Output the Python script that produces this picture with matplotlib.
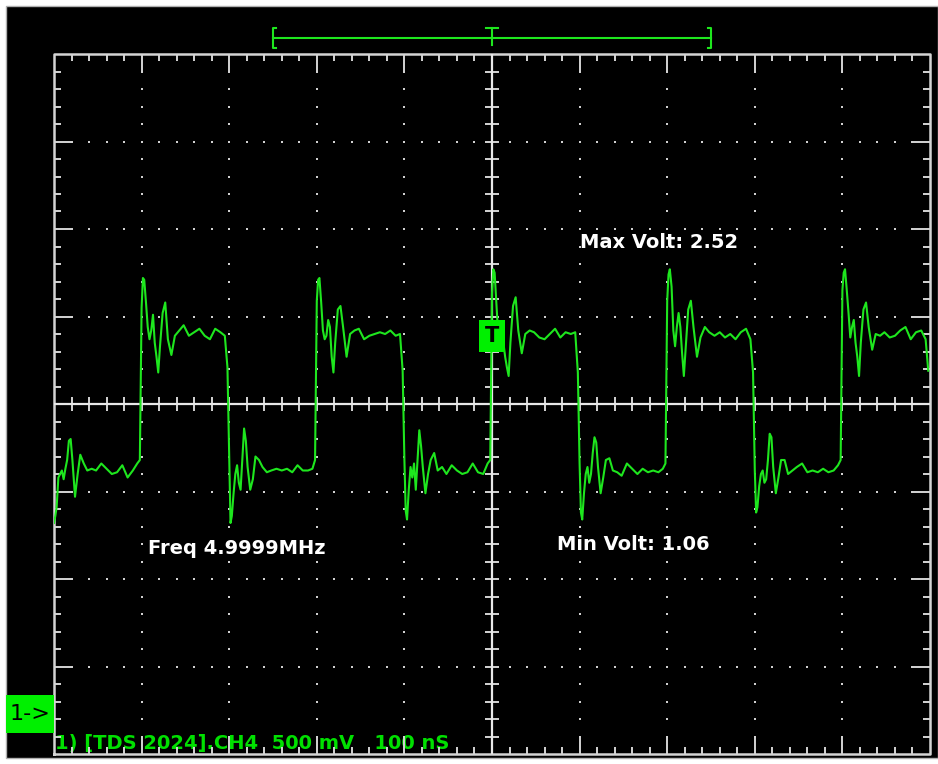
import numpy as np
import matplotlib
matplotlib.use("Agg")
import matplotlib.pyplot as plt
from matplotlib.patches import Rectangle
from matplotlib.collections import LineCollection
from matplotlib.transforms import blended_transform_factory

# Scope settings
NS_PER_DIV = 100
V_PER_DIV = 0.5
GROUND_DIV = 0.48          # CH1 ground marker, divisions above the bottom edge
TRIG_V = 2.15              # trigger level
RECORD_NS = (-250, 250)    # record window bracket at the top

# Trace readings: one list per half period, sampled at the same offsets after each edge
edge_ns = [-500, -400, -300, -200, -100, 0, 100, 200, 300, 400]
offset_ns = [0, 1.5, 3, 5, 7, 9, 11, 13, 15, 17, 19, 21, 24, 27, 30, 34, 38, 43,
             48, 54, 60, 66, 72, 78, 84, 90, 95, 98]

v_m500 = [1.08, 1.12, 1.17, 1.34, 1.36, 1.38, 1.33, 1.39, 1.44, 1.55, 1.56, 1.44, 1.23, 1.36,
          1.47, 1.42, 1.38, 1.39, 1.38, 1.42, 1.39, 1.36, 1.37, 1.41, 1.34, 1.38, 1.42, 1.44]
v_m400 = [2.31, 2.48, 2.47, 2.34, 2.20, 2.13, 2.18, 2.27, 2.11, 2.03, 1.94, 2.09, 2.28, 2.34,
          2.13, 2.04, 2.15, 2.18, 2.21, 2.15, 2.17, 2.19, 2.15, 2.13, 2.19, 2.17, 2.15, 1.97]
v_m300 = [1.45, 1.08, 1.12, 1.25, 1.36, 1.41, 1.31, 1.27, 1.44, 1.62, 1.55, 1.40, 1.27, 1.33,
          1.46, 1.44, 1.40, 1.37, 1.38, 1.39, 1.38, 1.39, 1.37, 1.41, 1.38, 1.38, 1.39, 1.44]
v_m200 = [2.35, 2.47, 2.48, 2.34, 2.18, 2.13, 2.15, 2.24, 2.20, 2.03, 1.94, 2.11, 2.30, 2.32,
          2.20, 2.03, 2.16, 2.18, 2.19, 2.13, 2.15, 2.16, 2.17, 2.16, 2.18, 2.15, 2.16, 1.95]
v_m100 = [1.44, 1.15, 1.10, 1.27, 1.40, 1.34, 1.42, 1.27, 1.44, 1.61, 1.52, 1.40, 1.25, 1.36,
          1.44, 1.48, 1.38, 1.40, 1.36, 1.41, 1.38, 1.36, 1.37, 1.42, 1.37, 1.36, 1.42, 1.44]
v_0 = [2.39, 2.53, 2.51, 2.34, 2.16, 2.13, 2.18, 2.11, 2.03, 1.97, 1.92, 2.11, 2.32, 2.37,
       2.18, 2.05, 2.16, 2.18, 2.17, 2.14, 2.13, 2.16, 2.19, 2.14, 2.17, 2.16, 2.17, 1.94]
v_100 = [1.42, 1.14, 1.10, 1.25, 1.36, 1.40, 1.31, 1.36, 1.48, 1.57, 1.54, 1.40, 1.25, 1.34,
         1.44, 1.45, 1.38, 1.37, 1.35, 1.42, 1.39, 1.36, 1.39, 1.37, 1.38, 1.37, 1.39, 1.42]
v_200 = [2.35, 2.50, 2.53, 2.43, 2.18, 2.09, 2.20, 2.28, 2.20, 2.05, 1.92, 2.07, 2.30, 2.35,
         2.20, 2.03, 2.14, 2.20, 2.17, 2.15, 2.17, 2.14, 2.16, 2.13, 2.17, 2.19, 2.13, 1.94]
v_300 = [1.38, 1.14, 1.17, 1.29, 1.36, 1.38, 1.31, 1.33, 1.44, 1.59, 1.57, 1.40, 1.25, 1.34,
         1.44, 1.44, 1.36, 1.38, 1.40, 1.42, 1.37, 1.38, 1.37, 1.39, 1.37, 1.38, 1.41, 1.44]
v_400 = [2.41, 2.51, 2.53, 2.41, 2.28, 2.14, 2.20, 2.24, 2.11, 2.03, 1.92, 2.11, 2.30, 2.34,
         2.20, 2.07, 2.16, 2.15, 2.17, 2.14, 2.15, 2.18, 2.20, 2.13, 2.17, 2.18, 2.13, 1.95]

half_periods = [v_m500, v_m400, v_m300, v_m200, v_m100, v_0, v_100, v_200, v_300, v_400]

TRACE = '#1ee61e'
BOX_GREEN = '#00f000'
FRAME = '#d4d4d4'
DOT = '#d0d0d0'

W, H = 938, 764
fig = plt.figure(figsize=(W / 100, H / 100), dpi=100, facecolor='white')
fig.patches.append(Rectangle((6 / W, 6 / H), 932 / W, 752 / H, transform=fig.transFigure,
                             facecolor='black', edgecolor='#b0b0b0', linewidth=1.0, zorder=-10))

ax = fig.add_axes([54 / W, 10 / H, 876 / W, 700 / H])
ax.axis('off')

x0, x1 = -5 * NS_PER_DIV, 5 * NS_PER_DIV
y0 = -GROUND_DIV * V_PER_DIV
y1 = y0 + 8 * V_PER_DIV
yc = y0 + 4 * V_PER_DIV
ax.set_xlim(x0, x1)
ax.set_ylim(y0, y1)

# one screen pixel in data units
px_x = (x1 - x0) / 876
px_y = (y1 - y0) / 700

minor_x = np.arange(x0, x1 + 0.01, NS_PER_DIV / 5)
minor_y = y0 + np.arange(0, 41) * V_PER_DIV / 5
major_x = x0 + np.arange(0, 11) * NS_PER_DIV
major_y = y0 + np.arange(0, 9) * V_PER_DIV

# dotted graticule
dx, dy = [], []
for gx in major_x[1:-1]:
    if abs(gx) < 1e-6:
        continue
    dx += [gx] * (len(minor_y) - 2)
    dy += list(minor_y[1:-1])
for gy in major_y[1:-1]:
    if abs(gy - yc) < 1e-6:
        continue
    dx += list(minor_x[1:-1])
    dy += [gy] * (len(minor_x) - 2)
ax.plot(dx, dy, linestyle='none', marker='s', markersize=1.6, color=DOT,
        markeredgewidth=0, zorder=1)

# frame, centre cross and their ticks
segs = []
for i, mx in enumerate(minor_x[1:-1], start=1):
    L = 18 if i % 5 == 0 else 7
    segs.append([(mx, y0), (mx, y0 + L * px_y)])
    segs.append([(mx, y1), (mx, y1 - L * px_y)])
    segs.append([(mx, yc - 7 * px_y), (mx, yc + 7 * px_y)])
for j, my in enumerate(minor_y[1:-1], start=1):
    L = 18 if j % 5 == 0 else 7
    segs.append([(x0, my), (x0 + L * px_x, my)])
    segs.append([(x1, my), (x1 - L * px_x, my)])
    segs.append([(-7 * px_x, my), (7 * px_x, my)])
ax.add_collection(LineCollection(segs, colors=FRAME, linewidths=1.4, zorder=3))
ax.plot([x0, x1, x1, x0, x0], [y0, y0, y1, y1, y0], color=FRAME, lw=1.8,
        clip_on=False, zorder=3)
ax.plot([x0, x1], [yc, yc], color='#e8e8e8', lw=1.6, zorder=3)
ax.plot([0, 0], [y0, y1], color='#e8e8e8', lw=1.6, zorder=3)

# trace
t = np.concatenate([np.array(offset_ns) + e for e in edge_ns])
v = np.concatenate(half_periods)
ax.plot(t, v, color=TRACE, lw=1.5, zorder=5)

# trigger level marker
ax.text(0, TRIG_V, 'T', ha='center', va='center', fontsize=15, fontweight='bold',
        family='DejaVu Sans', color='black', zorder=6,
        bbox=dict(boxstyle='square,pad=0.3', facecolor=BOX_GREEN, edgecolor='none'))

# record window bracket at the top
bt = blended_transform_factory(ax.transData, ax.transAxes)
yl, ytop, ybot = (754 - 38) / 700, (754 - 28) / 700, (754 - 48) / 700
s = 3 * px_x
kw = dict(color=TRACE, lw=1.5, transform=bt, clip_on=False, zorder=6)
ax.plot([RECORD_NS[0], RECORD_NS[1]], [yl, yl], **kw)
ax.plot([RECORD_NS[0] + s, RECORD_NS[0], RECORD_NS[0], RECORD_NS[0] + s],
        [ytop, ytop, ybot, ybot], **kw)
ax.plot([RECORD_NS[1] - s, RECORD_NS[1], RECORD_NS[1], RECORD_NS[1] - s],
        [ytop, ytop, ybot, ybot], **kw)
ax.plot([0, 0], [ytop, ybot + 3 / 700], **kw)
ax.plot([-6 * px_x, 6 * px_x], [ytop, ytop], **kw)

# ground marker
fig.patches.append(Rectangle((6 / W, (H - 733) / H), 48 / W, 38 / H, transform=fig.transFigure,
                             facecolor=BOX_GREEN, edgecolor='none', zorder=1))
fig.text(10 / W, 1 - 714 / H, '1->', ha='left', va='center', fontsize=16,
         family='DejaVu Sans', color='black', zorder=2)

# measurement readouts
lab = dict(color='white', fontsize=14, fontweight='bold', family='DejaVu Sans',
           ha='left', va='center')
fig.text(580 / W, 1 - 243 / H, 'Max Volt: 2.52', **lab)
fig.text(557 / W, 1 - 544 / H, 'Min Volt: 1.06', **lab)
fig.text(148 / W, 1 - 549 / H, 'Freq 4.9999MHz', **lab)

ax.text(55 / W, 1 - 743 / H, '1) [TDS 2024].CH4  500 mV   100 nS', transform=fig.transFigure,
        color='#00e000', fontsize=14, fontweight='bold', family='DejaVu Sans',
        ha='left', va='center', zorder=2, clip_on=False)

fig.savefig('out.png', dpi=100, facecolor='white')
